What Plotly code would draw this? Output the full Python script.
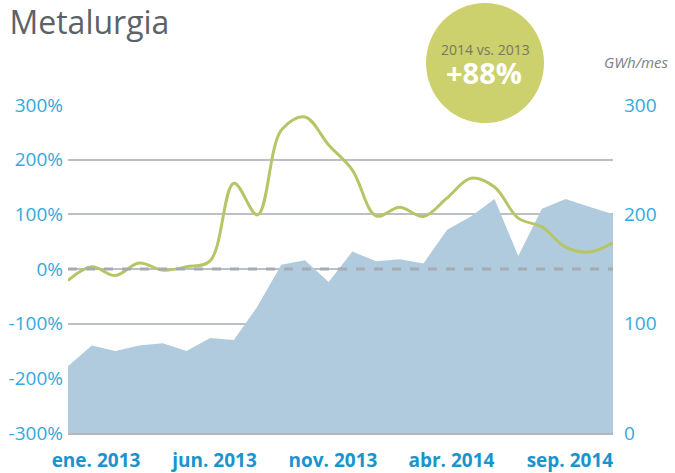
import plotly.graph_objects as go

# ene. 2013 .. dic. 2014
months = ["ene. 2013", "feb. 2013", "mar. 2013", "abr. 2013", "may. 2013", "jun. 2013",
          "jul. 2013", "ago. 2013", "sep. 2013", "oct. 2013", "nov. 2013", "dic. 2013",
          "ene. 2014", "feb. 2014", "mar. 2014", "abr. 2014", "may. 2014", "jun. 2014",
          "jul. 2014", "ago. 2014", "sep. 2014", "oct. 2014", "nov. 2014", "dic. 2014"]
consumo_gwh = [61, 80, 75, 80, 82, 75, 87, 85, 116, 154, 158, 138,
               166, 157, 159, 155, 186, 198, 214, 162, 205, 214, 207, 200]
variacion_pct = [-21, 4, -12, 11, -2, 4, 15, 157, 99, 254, 278, 227,
                 181, 97, 113, 96, 130, 166, 150, 93, 77, 40, 31, 48]
tick_idx = [0, 5, 10, 15, 20]
left_ticks = [300, 200, 100, 0, -100, -200, -300]
right_ticks = [0, 50, 100, 150, 200, 250, 300]

blue = "#35a8dc"
font = "Open Sans"
x = list(range(len(months)))

# plot area in pixels: x 68..613, y 105..433
def px(v):
    return (v - 68) / 545

def py(v):
    return (433 - v) / 328

fig = go.Figure()
fig.add_trace(go.Scatter(
    x=x, y=consumo_gwh, yaxis="y", mode="lines", fill="tozeroy",
    line=dict(width=0, color="#b0cbdd"), fillcolor="#b0cbdd",
    hoverinfo="skip", showlegend=False))
fig.add_trace(go.Scatter(
    x=x, y=variacion_pct, yaxis="y2", mode="lines",
    line=dict(width=3, color="#b6c566", shape="spline", smoothing=1),
    showlegend=False))

fig.add_shape(type="line", xref="paper", yref="y2", x0=0, x1=1, y0=0, y1=0,
              line=dict(color="#a4abb2", width=3, dash="dash"), layer="above")

# circle badge
fig.add_shape(type="circle", xref="paper", yref="paper",
              x0=px(426), x1=px(544), y0=py(123), y1=py(3),
              fillcolor="#ccd06d", line=dict(width=0), layer="above")

fig.add_annotation(xref="paper", yref="paper", x=px(485), y=py(50),
                   xanchor="center", yanchor="middle",
                   text="2014 vs. 2013", showarrow=False,
                   font=dict(family=font, size=14, color="#77795f"))
fig.add_annotation(xref="paper", yref="paper", x=px(484), y=py(73),
                   xanchor="center", yanchor="middle",
                   text="<b>+88%</b>", showarrow=False,
                   font=dict(family=font, size=29, color="white"))
fig.add_annotation(xref="paper", yref="paper", x=px(670), y=py(62),
                   xanchor="right", yanchor="middle", text="<i>GWh/mes</i>", showarrow=False,
                   font=dict(family=font, size=15, color="#7a7f85"))

fig.update_layout(
    width=675, height=473,
    margin=dict(l=68, r=62, t=105, b=40, autoexpand=False),
    paper_bgcolor="white", plot_bgcolor="white",
    title=dict(text="Metalurgia", x=0.014, xanchor="left", y=0.975, yanchor="top",
               font=dict(family=font, size=32, color="#5b6268")),
    xaxis=dict(range=[0, len(months) - 1], tickvals=[x[i] for i in tick_idx],
               ticktext=["<b>%s</b>" % months[i] for i in tick_idx],
               showgrid=False, zeroline=False, ticks="", automargin=False,
               showline=True, linecolor="#b4b8bd", linewidth=1.5,
               ticklabelstandoff=9, ticklabelshift=28,
               tickfont=dict(family=font, size=19, color="#1a94cc")),
    yaxis=dict(range=[0, 300], tickvals=right_ticks, side="right",
               ticktext=[str(v) if v % 100 == 0 else "" for v in right_ticks],
               showgrid=True, gridcolor="#bcc0c5", gridwidth=1.5, zeroline=False,
               ticks="", ticklabelstandoff=10, automargin=False,
               tickfont=dict(family=font, size=19, color=blue)),
    yaxis2=dict(range=[-300, 300], tickvals=left_ticks, overlaying="y", side="left",
                ticktext=["%d%%" % v for v in left_ticks],
                showgrid=False, zeroline=False, ticks="", ticklabelstandoff=4,
                automargin=False,
                tickfont=dict(family=font, size=19, color=blue)),
)

fig.write_html("out.html", config={"displayModeBar": False},
               post_script="document.body.style.margin = '0';")
